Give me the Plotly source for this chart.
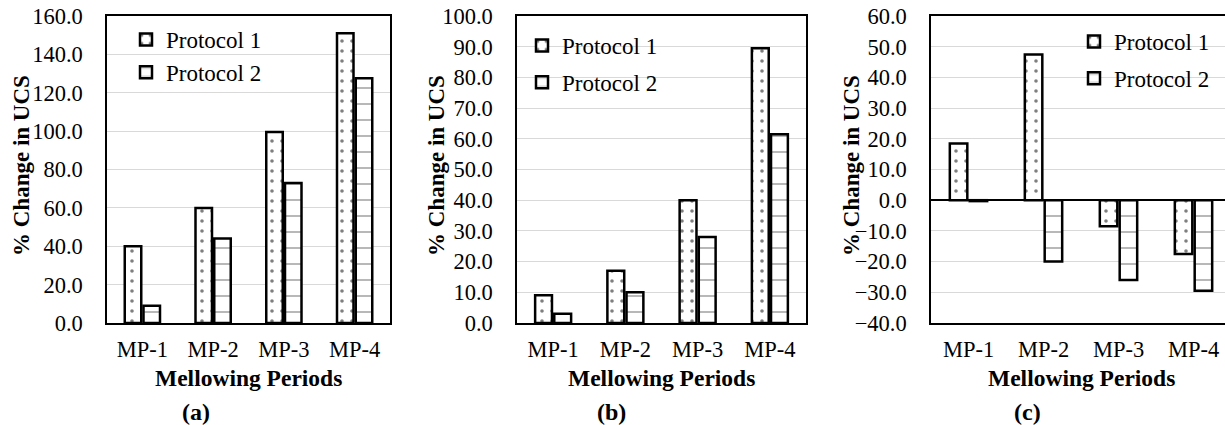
import plotly.graph_objects as go

categories = ["MP-1", "MP-2", "MP-3", "MP-4"]
series_names = ["Protocol 1", "Protocol 2"]

a_p1 = [40.0, 60.0, 99.5, 151.0]
a_p2 = [9.0, 44.0, 73.0, 127.5]
b_p1 = [9.0, 17.0, 40.0, 89.5]
b_p2 = [3.0, 10.0, 28.0, 61.5]
c_p1 = [18.5, 47.5, -8.5, -17.5]
c_p2 = [-0.3, -20.0, -26.0, -29.5]

panel_labels = ["(a)", "(b)", "(c)"]
x_title = "Mellowing Periods"
y_title = "% Change in UCS"

W, H = 1225, 425
FONT = "Liberation Serif"
FS = 22.5

def px(x):
    return x / W

def py(y):
    return 1 - y / H

pat1 = dict(shape=".", size=10, solidity=0.1, fgcolor="black", bgcolor="white", fillmode="overlay")
pat2 = dict(shape="-", size=16, solidity=0.08, fgcolor="#222222", bgcolor="white", fillmode="overlay")

fig = go.Figure()

panels = [
    dict(p1=a_p1, p2=a_p2, xd=[px(107), px(390)], yr=[0, 160], dt=20, leg="legend",
         legpos=(126, 18), gap=0, ytx=21, xr=[-0.5, 3.5], xc=248.5),
    dict(p1=b_p1, p2=b_p2, xd=[px(517), px(806)], yr=[0, 100], dt=10, leg="legend2",
         legpos=(522, 24), gap=4, ytx=436, xr=[-0.5, 3.5], xc=661.5),
    dict(p1=c_p1, p2=c_p2, xd=[px(931), 1.0], yr=[-40, 60], dt=10, leg="legend3",
         legpos=(1074, 20), gap=4, ytx=851, xr=[-0.5, 3.42], xc=1081),
]

yd = [py(323), py(16)]

for i, p in enumerate(panels):
    n = "" if i == 0 else str(i + 1)
    xa, ya = "x" + n, "y" + n
    for k, (vals, name, pat) in enumerate([(p["p1"], series_names[0], pat1),
                                          (p["p2"], series_names[1], pat2)]):
        fig.add_trace(go.Bar(
            x=categories, y=vals, name=name, xaxis=xa, yaxis=ya,
            legend=p["leg"], legendgroup=f"g{i}{k}",
            marker=dict(color="white", pattern=pat, line=dict(color="black", width=2.5)),
        ))
    fig.layout["xaxis" + n] = dict(
        domain=p["xd"], anchor=ya, type="category", range=p["xr"],
        showline=True, linecolor="black", linewidth=1.5, mirror=True,
        showgrid=False, zeroline=False, ticks="", automargin=False,
        tickfont=dict(family=FONT, size=FS, color="black"),
        ticklabelstandoff=5,
    )
    fig.layout["yaxis" + n] = dict(
        domain=yd, anchor=xa, range=p["yr"], dtick=p["dt"], tick0=0,
        tickformat=".1f", automargin=False,
        showline=True, linecolor="black", linewidth=1.5, mirror=(i < 2),
        showgrid=True, gridcolor="#d9d9d9", gridwidth=1.2,
        zeroline=(i == 2), zerolinecolor="black", zerolinewidth=1.8,
        ticks="", tickfont=dict(family=FONT, size=FS, color="black"),
        ticklabelstandoff=18,
    )
    lx, ly = p["legpos"]
    fig.layout[p["leg"]] = dict(
        x=px(lx), y=py(ly), xanchor="left", yanchor="top",
        bgcolor="rgba(0,0,0,0)", font=dict(family=FONT, size=23, color="black"),
        traceorder="grouped", tracegroupgap=p["gap"],
    )
    fig.add_annotation(text="<b>" + x_title + "</b>", xref="paper", yref="paper",
                       x=px(p["xc"]), y=py(378), xanchor="center", yanchor="middle",
                       showarrow=False,
                       font=dict(family=FONT, size=23.5, color="black"))
    fig.add_annotation(text="<b>" + y_title + "</b>", xref="paper", yref="paper",
                       x=px(p["ytx"]), y=py(166), xanchor="center", yanchor="middle",
                       showarrow=False, textangle=-90,
                       font=dict(family=FONT, size=23, color="black"))

for lab, xcen in zip(panel_labels, [196, 611, 1027]):
    fig.add_annotation(text="<b>" + lab + "</b>", xref="paper", yref="paper",
                       x=px(xcen), y=py(412), xanchor="center", yanchor="middle",
                       showarrow=False, font=dict(family=FONT, size=24, color="black"))

fig.update_layout(
    width=W, height=H, margin=dict(l=0, r=0, t=0, b=0, autoexpand=False),
    paper_bgcolor="white", plot_bgcolor="white",
    barmode="group", bargap=0.47, bargroupgap=0.12,
    showlegend=True,
)

post = (
    "document.documentElement.style.margin='0';"
    "document.body.style.margin='0';"
    "document.body.style.overflow='hidden';"
    "document.documentElement.style.overflow='hidden';"
    "var d=document.getElementById('{plot_id}');"
    "d.style.position='fixed';d.style.left='0px';d.style.top='0px';"
)

fig.write_html("out.html", config={"displayModeBar": False}, post_script=post)
